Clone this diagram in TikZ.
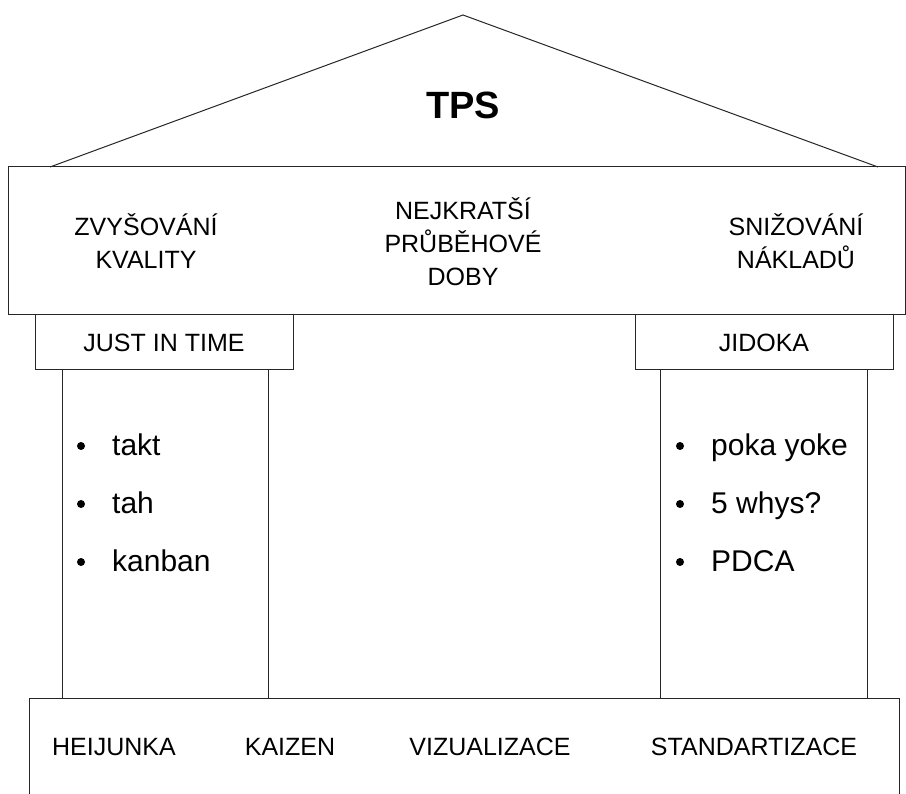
\documentclass[tikz,border=0pt]{standalone}
\usepackage{fontspec}
\setmainfont{Liberation Sans}
\usepackage{tikz}
\usetikzlibrary{arrows}

\begin{document}
\begin{tikzpicture}[x=1pt,y=-1pt,
  box/.style={rectangle, draw=black!85, line width=1pt, inner sep=0pt},
  lbl/.style={align=center, inner sep=0pt, font=\fontsize{25}{33}\selectfont},
  itm/.style={anchor=base west, inner sep=0pt, font=\fontsize{30}{33}\selectfont}]

\clip (0,0) rectangle (906,794);

% roof
\coordinate (A) at (463,15);
\coordinate (B) at (50,167);
\coordinate (C) at (878,167);
\draw[black!85, line width=1pt] (B) -- (A) -- (C);
\node[inner sep=0pt, font=\fontsize{38}{40}\selectfont\bfseries] (tps) at (463,105) {TPS};

\node[box, minimum width=897, minimum height=148] (top) at (456.5,241) {};
	\node[lbl] (t1) at (146,241) {ZVYŠOVÁNÍ\\KVALITY};
	\node[lbl] (t2) at (463,242) {NEJKRATŠÍ\\PRŮBĚHOVÉ\\DOBY};
	\node[lbl] (t3) at (796,241) {SNIŽOVÁNÍ\\NÁKLADŮ};
\node[box, minimum width=258, minimum height=55] (jit) at (164,342.5) {};
\node[box, minimum width=258, minimum height=55] (jid) at (764,342.5) {};
	\node[lbl] at (jit) {JUST IN TIME};
	\node[lbl] at (jid) {JIDOKA};
\node[box, minimum width=206, minimum height=328] (colL) at (165,534) {};
\node[box, minimum width=207, minimum height=328] (colR) at (763.5,534) {};
	\node[itm] (l1) at (112,456) {takt};
	\node[itm] (l2) at (112,514) {tah};
	\node[itm] (l3) at (112,572) {kanban};
	\node[itm] (r1) at (711,456) {poka yoke};
	\node[itm] (r2) at (711,514) {5 whys?};
	\node[itm] (r3) at (711,572) {PDCA};
\foreach \n in {l1,l2,l3} \fill ([xshift=-31pt,yshift=10pt]\n.base west) circle (4pt);
\foreach \n in {r1,r2,r3} \fill ([xshift=-31pt,yshift=10pt]\n.base west) circle (4pt);
\node[box, minimum width=870, minimum height=132] (base) at (464,764) {};
	\node[lbl] (b1) at (114,747) {HEIJUNKA};
	\node[lbl] (b2) at (290,747) {KAIZEN};
	\node[lbl] (b3) at (490,747) {VIZUALIZACE};
	\node[lbl] (b4) at (754,747) {STANDARTIZACE};

\end{tikzpicture}
\end{document}
